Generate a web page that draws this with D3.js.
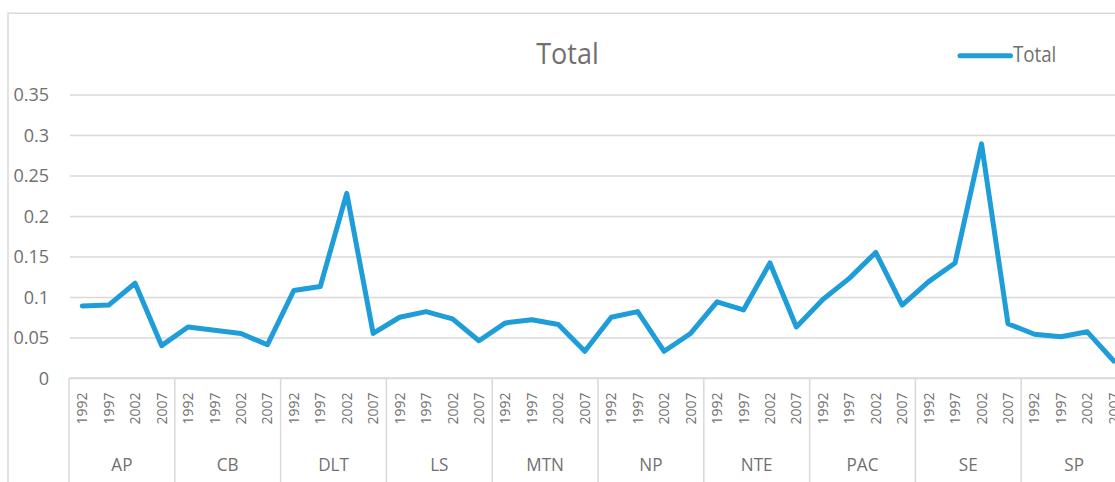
<!DOCTYPE html>
<html>
<head>
<meta charset="utf-8">
<script src="https://cdn.jsdelivr.net/npm/d3@7"></script>
<style>
  body { margin: 0; background: #fff; }
  text { font-family: "Open Sans", sans-serif; fill: #707070; }
</style>
</head>
<body>
<svg id="chart"></svg>
<script>
// chart data
const regions = ["AP", "CB", "DLT", "LS", "MTN", "NP", "NTE", "PAC", "SE", "SP"];
const years = ["1992", "1997", "2002", "2007"];
const totals = [
  0.089, 0.090, 0.117, 0.040,   // AP
  0.063, 0.059, 0.055, 0.041,   // CB
  0.108, 0.113, 0.228, 0.055,   // DLT
  0.075, 0.082, 0.073, 0.046,   // LS
  0.068, 0.072, 0.066, 0.033,   // MTN
  0.075, 0.082, 0.033, 0.055,   // NP
  0.094, 0.084, 0.142, 0.063,   // NTE
  0.097, 0.123, 0.155, 0.090,   // PAC
  0.119, 0.142, 0.289, 0.067,   // SE
  0.054, 0.051, 0.057, 0.021    // SP
];
const yTicks = [0, 0.05, 0.1, 0.15, 0.2, 0.25, 0.3, 0.35];

const width = 1115;
const height = 482;
const left = 69, right = 1127, axisY = 378, topY = 94.5;
const lineColor = "#1e9dd8";
const gridColor = "#d9d9d9";

const svg = d3.select("#chart")
    .attr("width", width)
    .attr("height", height);

// rows: one per point
const data = [];
regions.forEach((r, i) => {
  years.forEach((y, j) => {
    data.push({ region: r, year: y, idx: i * years.length + j, value: totals[i * years.length + j] });
  });
});

const xScale = d3.scaleBand()
    .domain(data.map(d => d.idx))
    .range([left, right])
    .padding(0);
const groupScale = d3.scaleBand()
    .domain(regions)
    .range([left, right])
    .padding(0);
const yScale = d3.scaleLinear()
    .domain([0, 0.35])
    .range([axisY, topY]);

const cx = d => xScale(d.idx) + xScale.bandwidth() / 2;

// chart area border (top and left edges visible)
svg.append("path")
    .attr("d", `M8,${height + 2}V13.3H${width + 2}`)
    .attr("fill", "none")
    .attr("stroke", gridColor)
    .attr("stroke-width", 1.5);

// y axis with gridlines
const yAxis = svg.append("g")
    .attr("transform", `translate(${left}, 0)`)
    .call(d3.axisLeft(yScale)
        .tickValues(yTicks)
        .tickFormat(d => String(+d.toFixed(2)))
        .tickSizeInner(-(right - left))
        .tickSizeOuter(0)
        .tickPadding(21));
yAxis.select(".domain").remove();
yAxis.selectAll(".tick line")
    .attr("x1", 1)
    .attr("stroke", gridColor)
    .attr("stroke-width", 1.5);
yAxis.selectAll(".tick text")
    .attr("transform", "scale(0.95,1)")
    .style("font-size", "19px")
    .style("fill", "#707070");

// category axis line and group separators
svg.append("line")
    .attr("x1", left).attr("x2", right)
    .attr("y1", axisY).attr("y2", axisY)
    .attr("stroke", gridColor)
    .attr("stroke-width", 1.5);
svg.selectAll(".sep")
    .data(regions.concat(["end"]))
    .enter().append("line")
    .attr("class", "sep")
    .attr("x1", (d, i) => i < regions.length ? groupScale(d) : right)
    .attr("x2", (d, i) => i < regions.length ? groupScale(d) : right)
    .attr("y1", axisY)
    .attr("y2", height + 2)
    .attr("stroke", gridColor)
    .attr("stroke-width", 1.5);

// year labels (rotated)
svg.selectAll(".year")
    .data(data)
    .enter().append("text")
    .attr("class", "year")
    .attr("transform", d => `translate(${cx(d)}, 392.5) rotate(-90)`)
    .attr("dy", "0.36em")
    .attr("text-anchor", "end")
    .style("font-size", "14px")
    .text(d => d.year);

// region labels
svg.selectAll(".region")
    .data(regions)
    .enter().append("text")
    .attr("class", "region")
    .attr("transform", d => `translate(${groupScale(d) + groupScale.bandwidth() / 2}, 470.7) scale(0.9,1)`)
    .attr("text-anchor", "middle")
    .style("font-size", "19px")
    .text(d => d);

// line
const line = d3.line()
    .x(cx)
    .y(d => yScale(d.value));
svg.append("path")
    .datum(data)
    .attr("fill", "none")
    .attr("stroke", lineColor)
    .attr("stroke-width", 5)
    .attr("stroke-linejoin", "round")
    .attr("stroke-linecap", "round")
    .attr("d", line);

// title
svg.append("text")
    .attr("transform", "translate(567.5, 64) scale(0.9,1)")
    .attr("text-anchor", "middle")
    .style("font-size", "30px")
    .text("Total");

// legend
svg.append("line")
    .attr("x1", 960).attr("x2", 1010.5)
    .attr("y1", 55.7).attr("y2", 55.7)
    .attr("stroke", lineColor)
    .attr("stroke-width", 5)
    .attr("stroke-linecap", "round");
svg.append("text")
    .attr("transform", "translate(1013, 62.3) scale(0.89,1)")
    .style("font-size", "21px")
    .text("Total");
</script>
</body>
</html>
